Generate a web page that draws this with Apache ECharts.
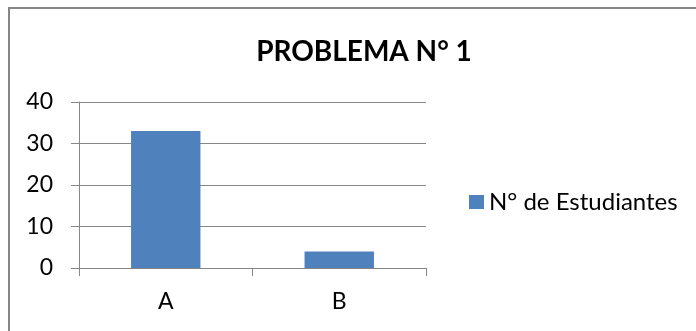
<!DOCTYPE html>
<html>
<head>
<meta charset="utf-8">
<script src="https://cdn.jsdelivr.net/npm/echarts@6/dist/echarts.min.js"></script>
<style>
  html, body { margin: 0; padding: 0; background: #ffffff; }
  #chart { width: 696px; height: 331px; }
</style>
</head>
<body>
<div id="chart"></div>
<script>
// Chart content
const titleText = 'PROBLEMA N° 1';
const categories = ['A', 'B'];
const seriesName = 'N° de Estudiantes';
const studentCounts = [33, 4];
const yTicks = [0, 10, 20, 30, 40];

const FONT = 'Lato, "Open Sans", sans-serif';
const GRAY = '#868686';

const chart = echarts.init(document.getElementById('chart'), null, { renderer: 'canvas' });

chart.setOption({
  backgroundColor: '#ffffff',
  animation: false,
  title: {
    text: titleText,
    left: 359,
    top: 33,
    textAlign: 'center',
    textStyle: { fontFamily: FONT, fontWeight: 'bold', fontSize: 28, color: '#000000' }
  },
  legend: {
    orient: 'vertical',
    left: 469,
    top: 190,
    padding: 0,
    itemWidth: 15,
    itemHeight: 14,
    itemGap: 8,
    icon: 'rect',
    textStyle: { fontFamily: FONT, fontSize: 24, color: '#000000' },
    data: [seriesName]
  },
  grid: { left: 79, right: 270, top: 102, bottom: 63, containLabel: false },
  xAxis: {
    type: 'category',
    data: categories,
    boundaryGap: true,
    axisLine: { show: true, lineStyle: { color: GRAY, width: 1 } },
    axisTick: { show: true, length: 8, lineStyle: { color: GRAY }, alignWithLabel: false },
    axisLabel: { margin: 22, fontFamily: FONT, fontSize: 23, color: '#000000' }
  },
  yAxis: {
    type: 'value',
    min: yTicks[0],
    max: yTicks[yTicks.length - 1],
    interval: yTicks[1] - yTicks[0],
    axisLine: { show: true, lineStyle: { color: GRAY, width: 1 } },
    axisTick: { show: true, length: 8, lineStyle: { color: GRAY } },
    splitLine: { show: true, lineStyle: { color: GRAY, width: 1 } },
    axisLabel: { margin: 26, fontFamily: FONT, fontSize: 23, color: '#000000' }
  },
  series: [{
    name: seriesName,
    type: 'bar',
    data: studentCounts,
    barCategoryGap: '60%',
    itemStyle: { color: '#4F81BD' }
  }],
  graphic: [{
    type: 'rect',
    silent: true,
    shape: { x: 9, y: 8, width: 720, height: 360 },
    style: { fill: 'none', stroke: GRAY, lineWidth: 2 }
  }]
});
</script>
</body>
</html>
